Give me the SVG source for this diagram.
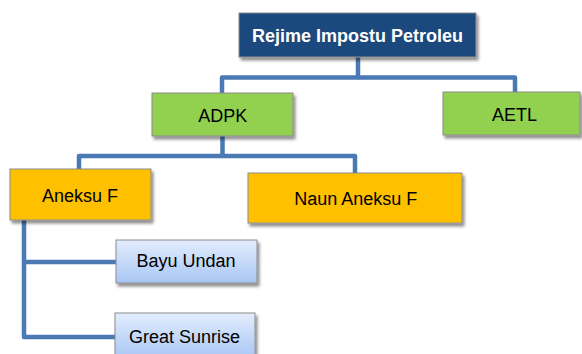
<svg xmlns="http://www.w3.org/2000/svg" width="582" height="354" viewBox="0 0 582 354">
<defs>
<linearGradient id="blueGrad" x1="0" y1="0" x2="0" y2="1">
<stop offset="0" stop-color="#e3edfd"/>
<stop offset="1" stop-color="#a8c6f4"/>
</linearGradient>
<filter id="sh" x="-10%" y="-20%" width="125%" height="150%">
<feGaussianBlur in="SourceAlpha" stdDeviation="1.5"/>
<feOffset dx="2" dy="2.5" result="b"/>
<feComponentTransfer><feFuncA type="linear" slope="0.45"/></feComponentTransfer>
<feMerge><feMergeNode/><feMergeNode in="SourceGraphic"/></feMerge>
</filter>
</defs>
<style>
.conn{fill:none;stroke:#4a79b4;stroke-width:4.5;stroke-linejoin:round;stroke-linecap:butt}
.box{stroke:#8c8c8c;stroke-width:1;filter:url(#sh)}
.title{fill:#1f497d;stroke:#8c8c8c}
.green{fill:#92d050}
.orange{fill:#ffc000}
.blue{fill:url(#blueGrad)}
.t{font-family:"Liberation Sans",Arial,sans-serif;font-size:18px;fill:#000;text-anchor:middle}
.tw{fill:#fff;font-weight:bold}
</style>
<rect width="582" height="354" fill="#fff"/>
<g id="connectors">
<path class="conn" d="M358 57 V77.5 H222 V93"/>
<path class="conn" d="M358 77.5 H515 V92"/>
<path class="conn" d="M222.5 136 V156 H79 V169"/>
<path class="conn" d="M222.5 156 H355 V173"/>
<path class="conn" d="M24 220 V337 H116"/>
<path class="conn" d="M24 262 H116"/>
</g>
<g id="n_rejime">
<rect class="box title" x="239" y="13" width="237" height="44"/>
<text class="t tw" x="357.5" y="41.5">Rejime Impostu Petroleu</text>
</g>
<g id="n_adpk">
<rect class="box green" x="152" y="93" width="141" height="43"/>
<text class="t" x="222.8" y="121.5">ADPK</text>
</g>
<g id="n_aetl">
<rect class="box green" x="443" y="92" width="137" height="43"/>
<text class="t" x="514.5" y="121">AETL</text>
</g>
<g id="n_aneksu">
<rect class="box orange" x="10" y="169" width="141" height="51"/>
<text class="t" x="80" y="201.5">Aneksu F</text>
</g>
<g id="n_naun">
<rect class="box orange" x="248" y="173" width="214" height="50"/>
<text class="t" x="355.8" y="205">Naun Aneksu F</text>
</g>
<g id="n_bayu">
<rect class="box blue" x="116" y="240" width="141" height="43"/>
<text class="t" x="186" y="267.3">Bayu Undan</text>
</g>
<g id="n_great">
<rect class="box blue" x="115" y="313" width="140" height="46"/>
<text class="t" x="184.5" y="343.3">Great Sunrise</text>
</g>
</svg>
